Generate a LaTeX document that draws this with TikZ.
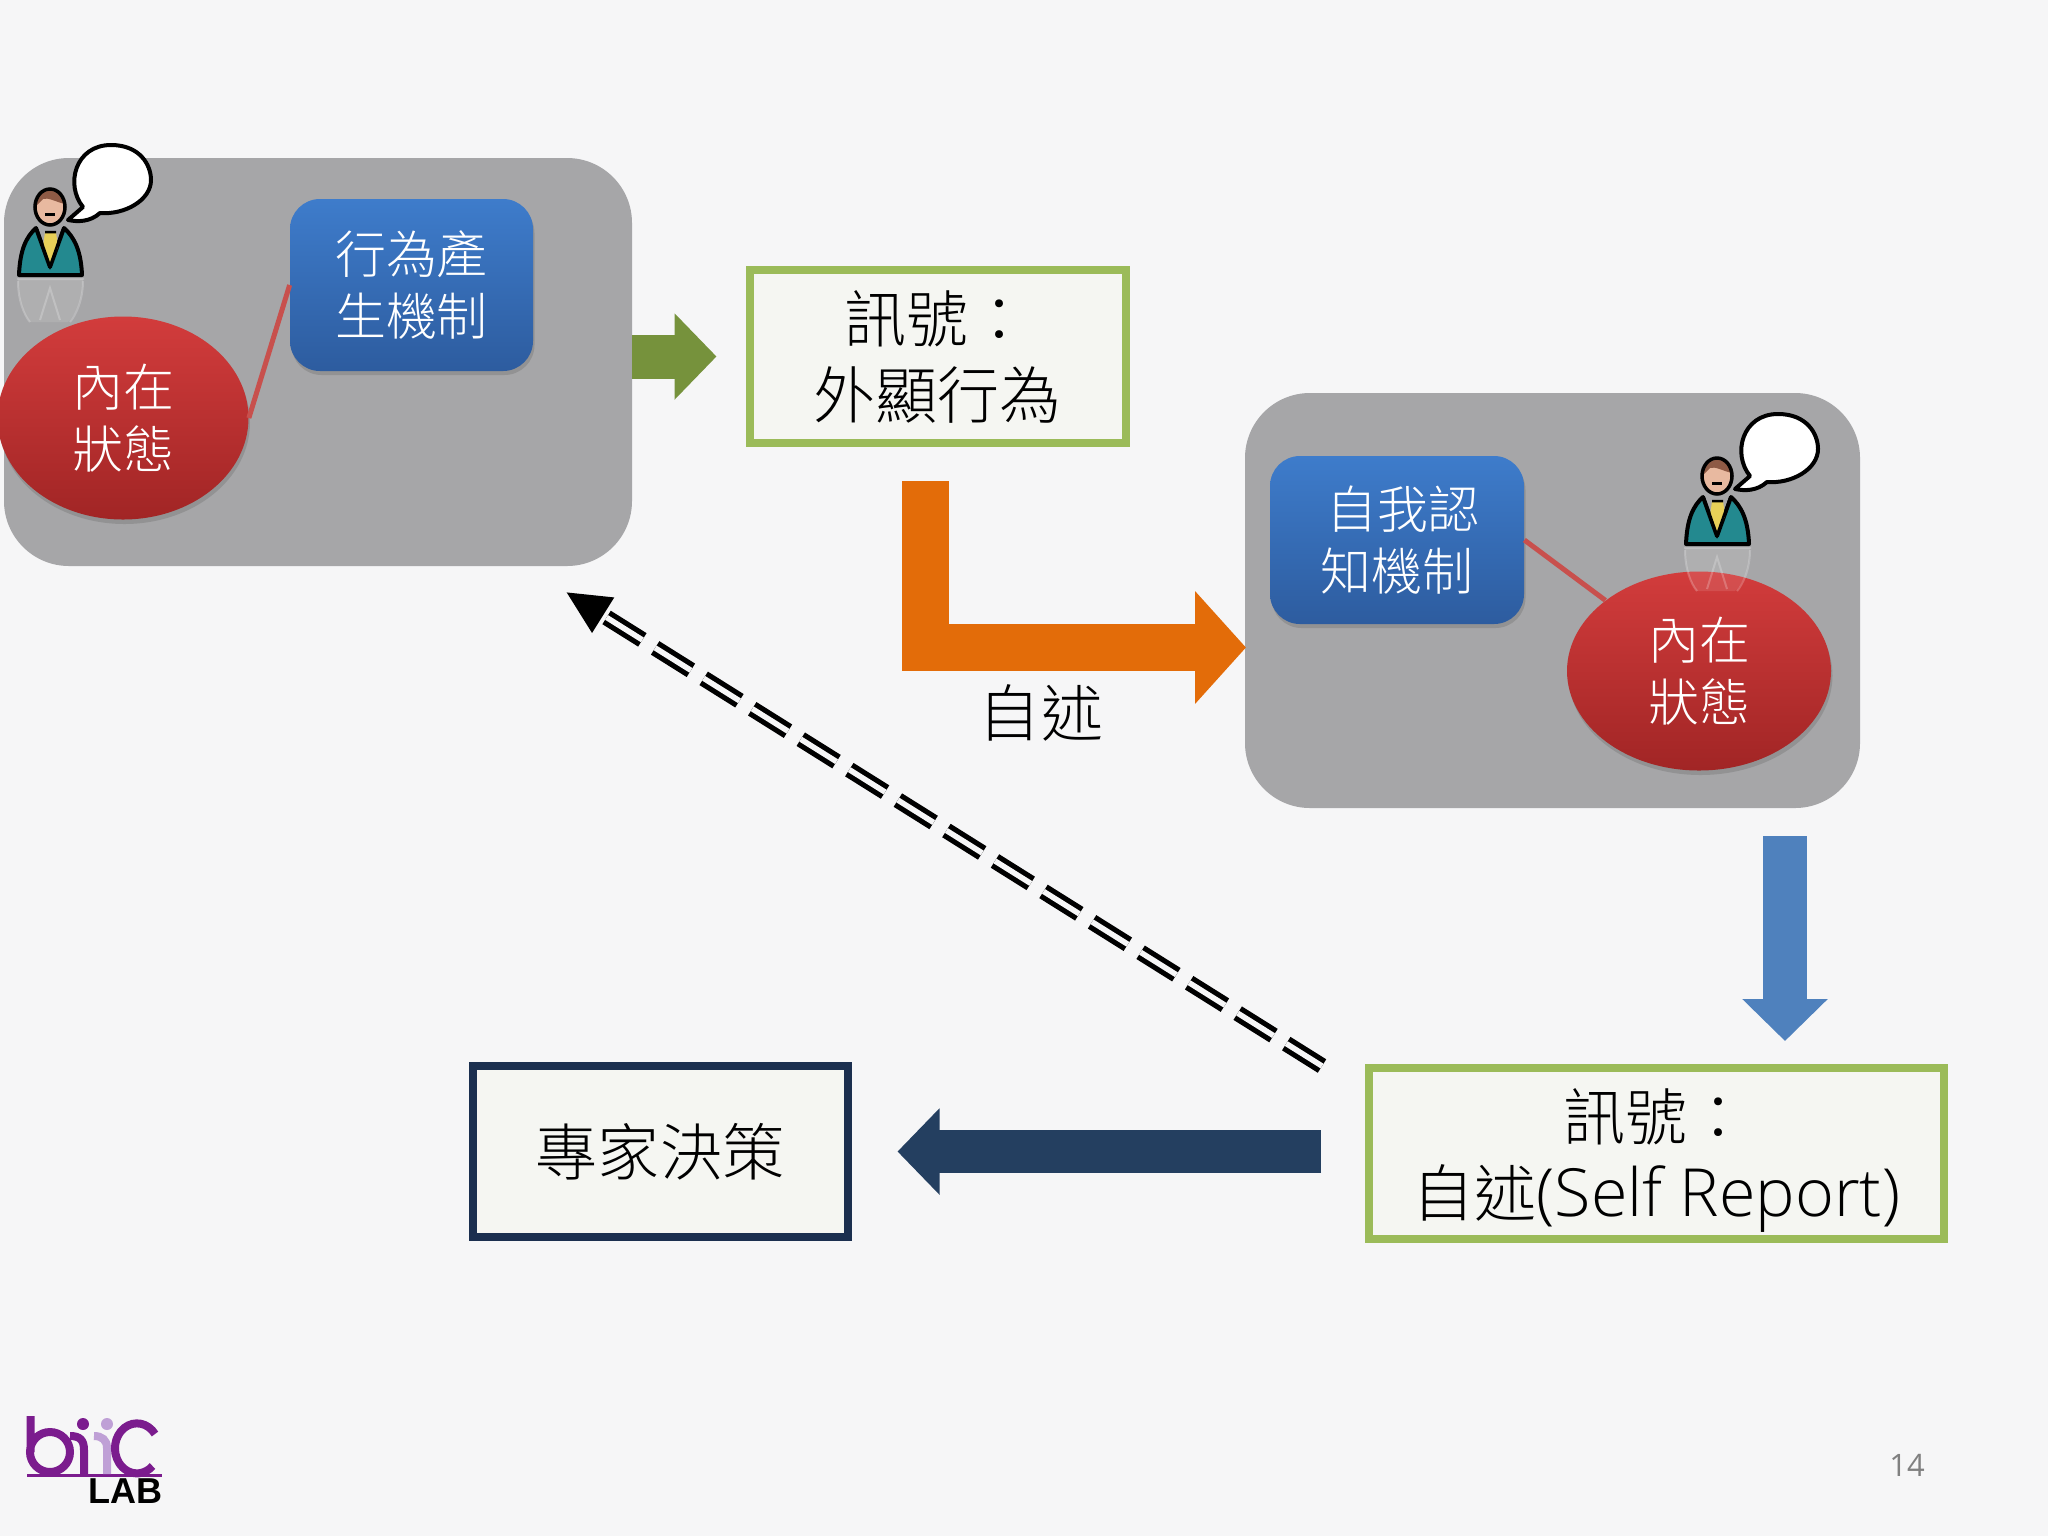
\documentclass[tikz,border=0pt]{standalone}
\usepackage{fontspec}
\setmainfont{Noto Sans CJK TC Light}
\newfontfamily\latinfont{Open Sans}
\newfontfamily\latinlight{Open Sans Light}
\newfontfamily\logofont{Liberation Sans}
\usetikzlibrary{arrows.meta,shapes.geometric,shadows,calc}

\definecolor{pagebg}{HTML}{F6F6F7}
\definecolor{groupgray}{HTML}{A6A6A8}
\definecolor{signalgreen}{HTML}{9BBB59}
\definecolor{boxfill}{HTML}{F5F6F2}
\definecolor{navyline}{HTML}{1B2F4F}
\definecolor{navyarrow}{HTML}{243F60}
\definecolor{olivearrow}{HTML}{76923C}
\definecolor{orangearrow}{HTML}{E36C09}
\definecolor{bluearrow}{HTML}{4F81BD}
\definecolor{redline}{HTML}{C8504D}
\definecolor{logopurple}{HTML}{7B1C8E}
\definecolor{logolilac}{HTML}{BFA0D6}
\definecolor{mechtop}{HTML}{3E7CCB}
\definecolor{mechbottom}{HTML}{2D5C9F}
\definecolor{statetop}{HTML}{D23C3C}
\definecolor{statebottom}{HTML}{A12525}
\definecolor{suit}{HTML}{23898F}
\definecolor{tie}{HTML}{E8D058}
\definecolor{skin}{HTML}{E8B9A0}
\definecolor{hair}{HTML}{8E5A45}

\newlength{\px}
\setlength{\px}{0.02cm}

\tikzset{
  groupbox/.style={rounded corners=1.3cm, fill=groupgray, inner sep=0pt},
  mechbox/.style={rounded corners=0.6cm, top color=mechtop, bottom color=mechbottom,
    text=white, align=center, inner sep=0pt,
    font=\fontsize{29}{35}\selectfont, drop shadow={shadow xshift=0.03cm,shadow yshift=-0.08cm,opacity=.5}},
  statebox/.style={ellipse, top color=statetop, bottom color=statebottom,
    text=white, align=center, inner sep=0pt,
    font=\fontsize{29}{35}\selectfont, drop shadow={shadow xshift=0.03cm,shadow yshift=-0.09cm,opacity=.5}},
  signalbox/.style={draw=signalgreen, line width=8\px, fill=boxfill, align=center, inner sep=0pt,
    font=\fontsize{35.3}{43.2}\selectfont},
  blockarrow/.style={line width=#1, line cap=butt},
  redlink/.style={draw=redline, line width=5\px},
  person/.pic={
    % reflection under the figure
    \fill[white, opacity=.1] (18,279) -- (83,279) .. controls (83,300) and (75,315) .. (68,322) -- (30,322) .. controls (24,315) and (18,300) .. (18,279) -- cycle;
    \draw[white, opacity=.22, line width=2\px] (17,279) -- (84,279) (18,281) .. controls (18,300) and (24,315) .. (30,322)
      (83,281) .. controls (83,300) and (76,315) .. (70,322) (40,320) -- (50,288) -- (60,320);
    % body
    \draw[fill=suit, line width=4\px, line join=round] (19,275) .. controls (20,250) and (26,237) .. (36,228) -- (50,267) -- (64,228) .. controls (74,237) and (81,250) .. (82,275) -- cycle;
    \fill[tie] (45,232) -- (56,232) -- (58,247) -- (50,264) -- (43,247) -- cycle;
    \draw[line width=2.5\px] (45,232) -- (56,232) (37,229) -- (50,266) -- (63,229);
    % head
    \fill[skin] (50,207) ellipse [x radius=15, y radius=18];
    \fill[hair] (36,206) .. controls (36,186) and (62,186) .. (65,204) .. controls (56,202) and (48,197) .. (43,199) -- cycle;
    \draw[line width=3.5\px] (50,207) ellipse [x radius=15, y radius=18];
    \draw[line width=3\px] (45,214) -- (55,214);
    % speech bubble
    \draw[fill=white, line width=4\px, line join=round] (68,220) -- (83,207) .. controls (65,185) and (75,145) .. (111,145)
      .. controls (140,145) and (151,165) .. (151,180) .. controls (151,200) and (125,215) .. (100,213) .. controls (90,222) and (78,222) .. (68,220) -- cycle;
  }
}

\begin{document}
\begin{tikzpicture}[x=0.02cm,y=-0.02cm]
\fill[pagebg] (0,0) rectangle (2048,1536);
\useasboundingbox (0,0) rectangle (2048,1536);

% Grey groups
\node[groupbox, minimum width=628\px, minimum height=408\px] (speaker) at (318,362) {};
\node[groupbox, minimum width=615\px, minimum height=415\px] (reader) at (1552.5,600.5) {};

% Inner states and mechanisms
\node[mechbox, minimum width=243\px, minimum height=172\px] (behavior) at (411.5,285) {行為產\\生機制};
\node[statebox, minimum width=251\px, minimum height=203\px] (state) at (123,418) {內在\\狀態};
\node[mechbox, minimum width=254\px, minimum height=168\px] (insight) at (1397,540) {\hspace*{12\px}自我認\\知機制};
\node[statebox, minimum width=264\px, minimum height=199\px] (selfstate) at (1699,671) {內在\\狀態};

\draw[redlink] (state.east) -- (behavior.west);
\draw[redlink] (insight.east) -- (selfstate.north west);

% Figures with bubbles
\pic at (0,0) {person};
\pic at (1667,269) {person};

% Signals and decision
\node[signalbox, minimum width=376\px, minimum height=173\px] (behsignal) at (937.5,356.5) {訊號：\\外顯行為};
\node[signalbox, minimum width=575\px, minimum height=171\px] (repsignal) at (1656.5,1153.5) {\rule{0pt}{37pt}訊號：\\自述{\latinlight\fontsize{37.8}{43.2}\selectfont(Self Report)}};
\node[signalbox, draw=navyline, minimum width=375\px, minimum height=171\px] (expert) at (660,1151.5) {專家決策};
\node[font=\fontsize{35.3}{43.2}\selectfont, inner sep=0pt] (selflabel) at (1041,713) {自述};

% Block arrows
\coordinate (orangestart) at (925.5,481);
\coordinate (orangetip) at (1246,647.5);
\coordinate (bluestart) at (1785,836);
\coordinate (bluetip) at (1785,1041);
\coordinate (dashstart) at (1322,1066);
\coordinate (dashtip) at (566,592);

\draw[blockarrow=44\px, olivearrow, -{Triangle[length=0.84cm,width=1.68cm]}, shorten >=29\px] (speaker.east |- behsignal.west) -- (behsignal.west);
\draw[blockarrow=47\px, orangearrow, -{Triangle[length=1.02cm,width=2.2cm]}] (orangestart) |- (orangetip);
\draw[blockarrow=44\px, bluearrow, -{Triangle[length=0.84cm,width=1.66cm]}] (bluestart) -- (bluetip);
\draw[blockarrow=43\px, navyarrow, -{Triangle[length=0.84cm,width=1.68cm]}, shorten >=46\px, shorten <=44\px] (expert.east -| repsignal.west) -- (expert.east);

% Dashed double arrow back to the speaker
\draw[line width=5.2\px, draw=black, double=pagebg, double distance=5.5\px, dash pattern=on 42.2\px off 15.1\px] (dashstart) -- ($(dashtip)!42\px!(dashstart)$);
\node[fill=black, isosceles triangle, isosceles triangle apex angle=52, minimum height=43\px, inner sep=0pt, rotate=148, anchor=apex] (dashhead) at (dashtip) {};

% Page number
\node[text=gray, font=\latinfont\fontsize{17.6}{20}\selectfont, inner sep=0pt] (pagenum) at (1907,1465) {14};

% Logo
\draw[logopurple, line width=3\px] (27,1475) -- (162,1475);
\draw[logopurple, line width=8\px] (30.5,1416) -- (30.5,1452) (50,1452) circle [radius=20];
\draw[logopurple, line width=8\px] (70,1436) .. controls (80,1436) and (84,1440) .. (84,1450) -- (84,1474);
\draw[logolilac, line width=8\px] (107,1474) -- (107,1448) .. controls (107,1440) and (102,1436) .. (94,1436);
\draw[logopurple, line width=8\px] (155,1434) arc (-35:-315:22 and 25);
\fill[logopurple] (83,1424) circle [radius=6];
\fill[logolilac] (107,1424) circle [radius=6];
\node[font=\logofont\bfseries\fontsize{20.5}{22}\selectfont, inner sep=0pt, anchor=north east] (lablogo) at (163,1478) {LAB};
\end{tikzpicture}
\end{document}
